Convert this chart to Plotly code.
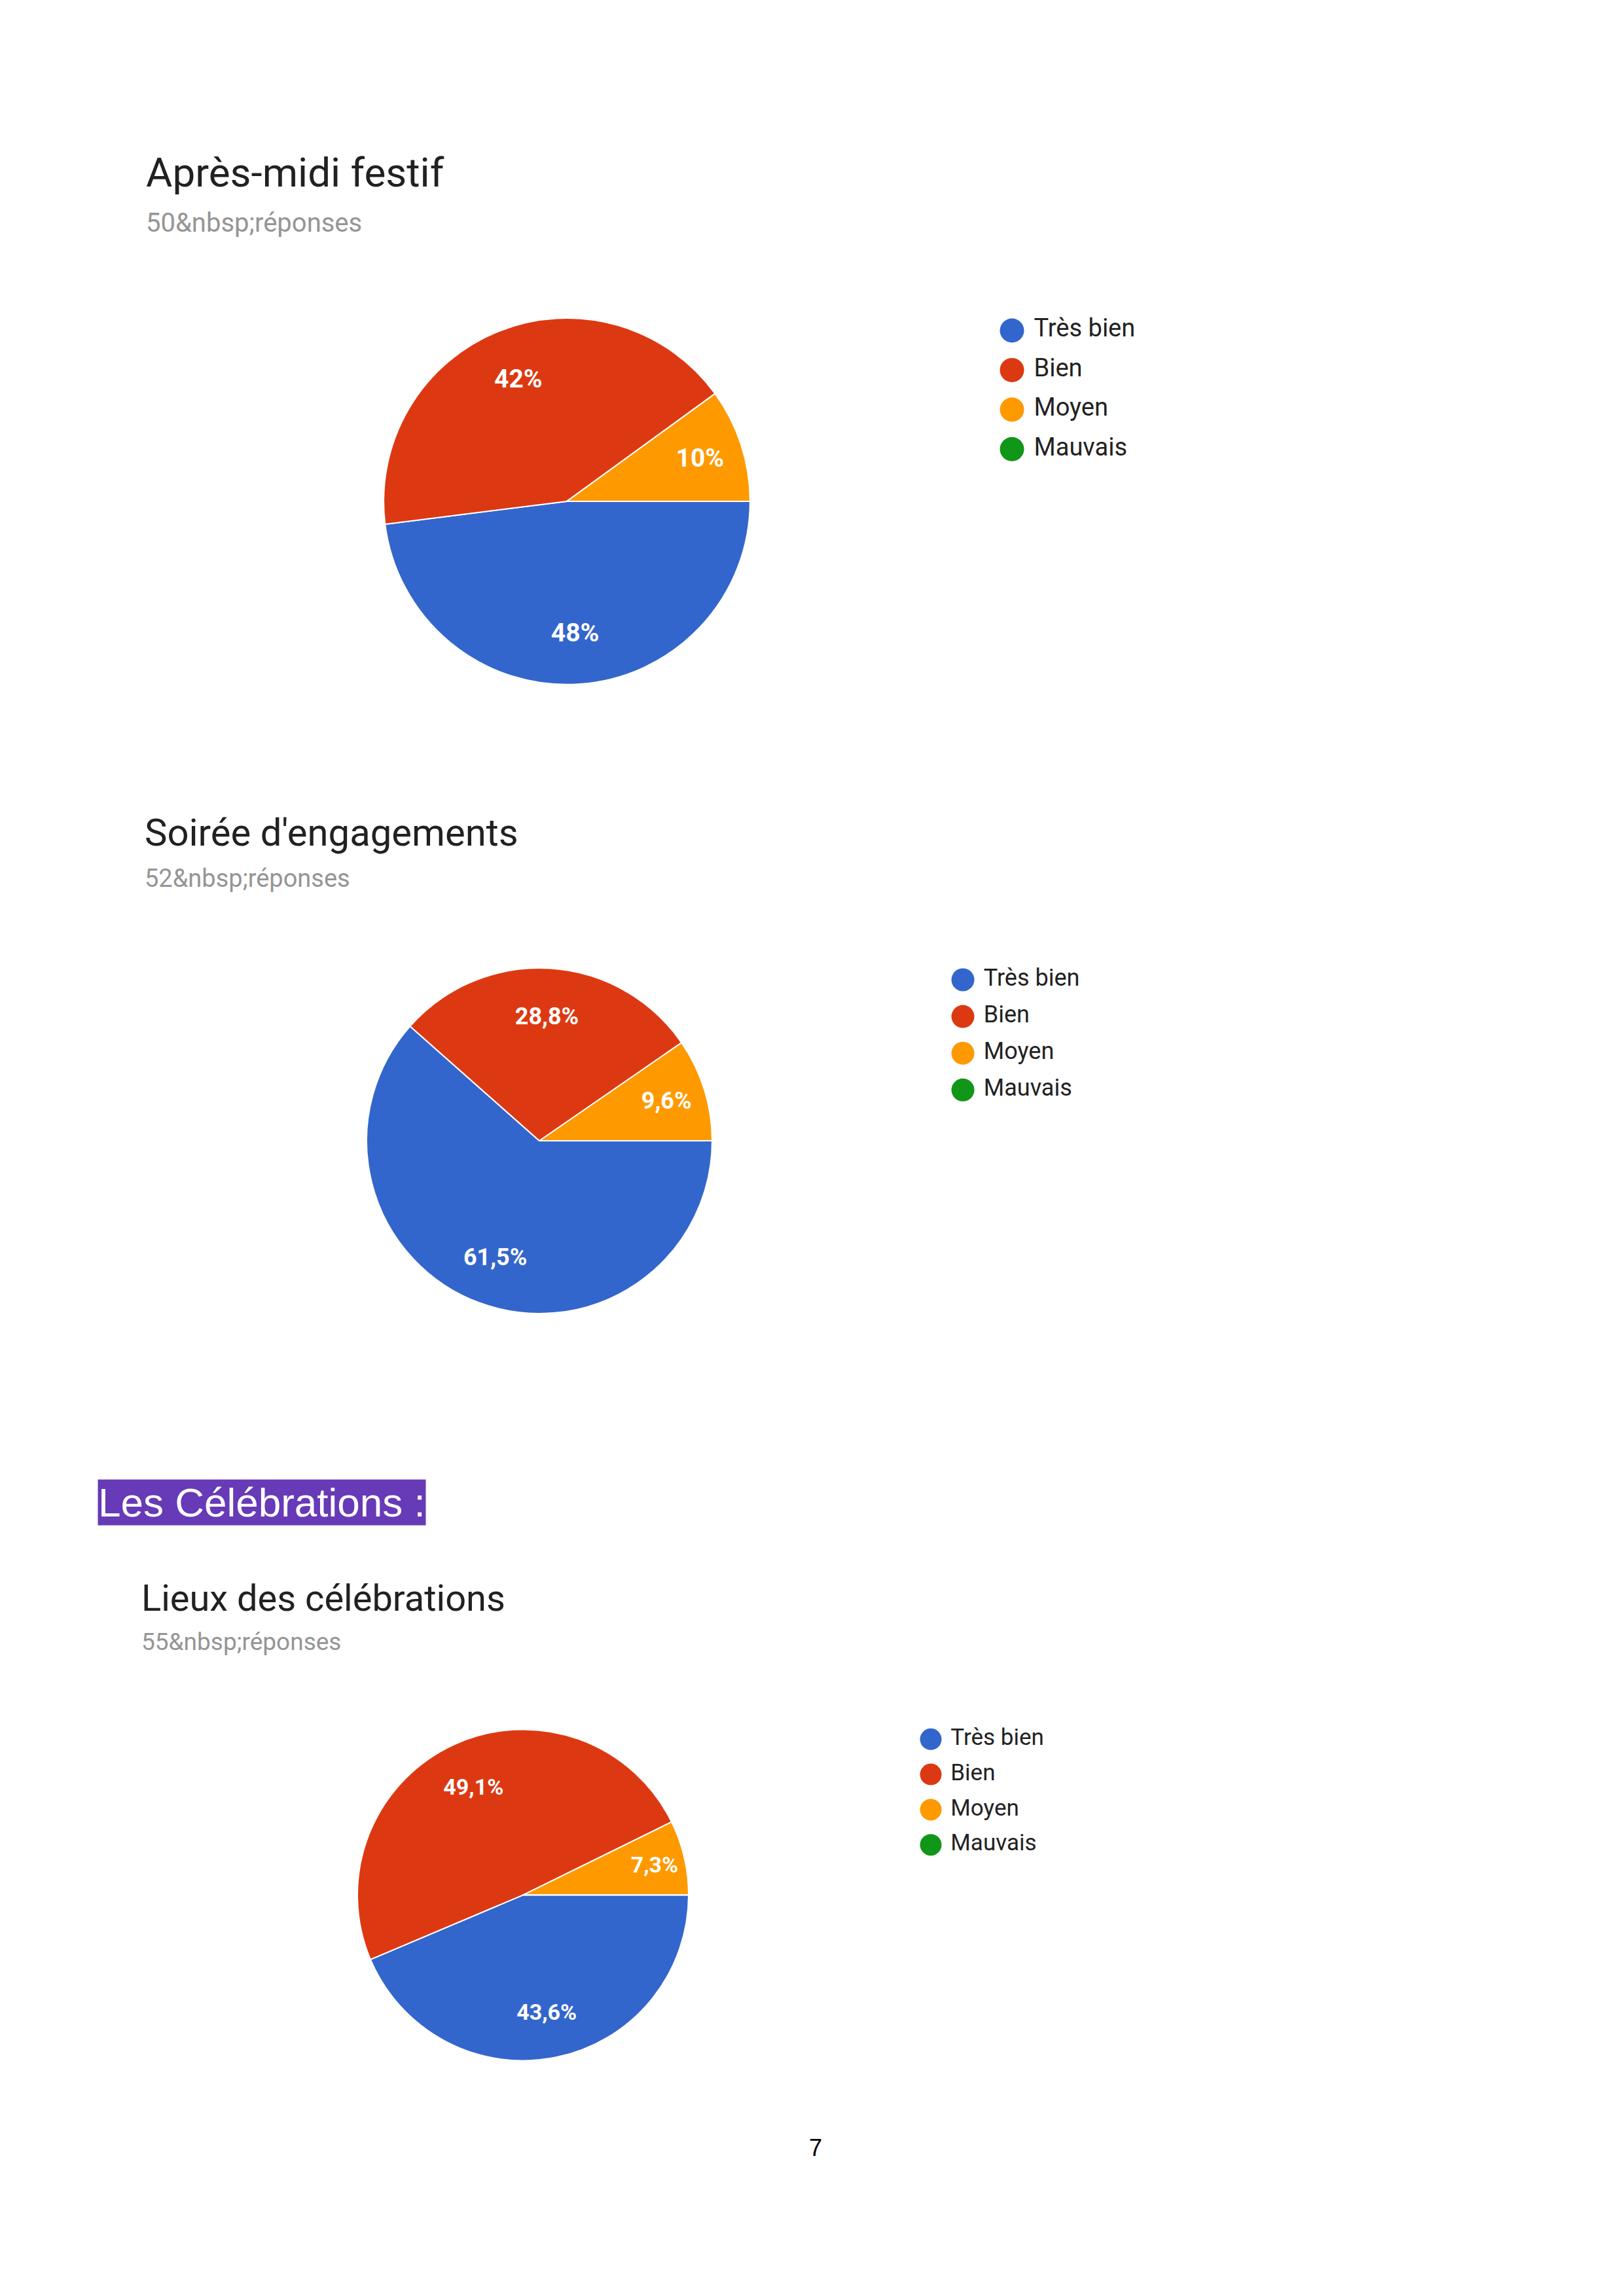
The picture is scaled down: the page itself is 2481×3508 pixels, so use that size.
import plotly.graph_objects as go

W, H = 2481, 3508

# data
categories = ["Très bien", "Bien", "Moyen", "Mauvais"]
colors = ["#3366cc", "#dc3912", "#ff9900", "#109618"]

titles = ["Après-midi festif", "Soirée d'engagements", "Lieux des célébrations"]
responses = [50, 52, 55]

festif_values = [24, 21, 5, 0]
engagements_values = [32, 15, 5, 0]
lieux_values = [24, 27, 4, 0]
all_values = [festif_values, engagements_values, lieux_values]

section_title = "Les Célébrations :"
page_number = "7"

# layout of each block, in page pixels
blocks = [
    dict(tx=225, ty=265, sy=342, cx=870, cy=769, r=281, lx=1550, ly0=507, ly1=689,
         tf=62, sf=40, lf=38, ms=37, pf=39),
    dict(tx=223, ty=1277, sy=1347, cx=828, cy=1750, r=265, lx=1475, ly0=1503, ly1=1672,
         tf=58, sf=38, lf=36, ms=35, pf=36),
    dict(tx=218, ty=2452, sy=2519, cx=803, cy=2907, r=254, lx=1426, ly0=2668, ly1=2830,
         tf=56, sf=37, lf=35, ms=33, pf=34),
]
XSHIFT = -4    # small corrections measured on the render
YFIX = 0.996


def px(x):
    return (x + XSHIFT) / W


def py(y):
    return 1 - y * YFIX / H


fig = go.Figure()
annotations = []
axes = {}

for i, (b, vals) in enumerate(zip(blocks, all_values)):
    dom = dict(
        x=[px(b["cx"] - b["r"]), px(b["cx"] + b["r"])],
        y=[py(b["cy"] + b["r"]), py(b["cy"] - b["r"])],
    )
    common = dict(
        labels=categories,
        values=vals,
        sort=False,
        direction="clockwise",
        rotation=90,
        domain=dom,
        showlegend=False,
    )
    # the pie itself
    fig.add_trace(
        go.Pie(
            textinfo="none",
            hoverinfo="label+percent",
            marker=dict(colors=colors, line=dict(color="white", width=2)),
            **common,
        )
    )
    # invisible ring on top, only to put the percentages further out
    fig.add_trace(
        go.Pie(
            hole=0.44,
            marker=dict(colors=["rgba(0,0,0,0)"] * len(categories), line=dict(width=0)),
            texttemplate="%{percent:.1~%}",
            textposition="inside",
            insidetextorientation="horizontal",
            textfont=dict(family="Roboto", size=b["pf"], color="white", weight="bold"),
            hoverinfo="skip",
            **common,
        )
    )

    # legend drawn as a scatter on a hidden category axis
    n = str(i + 1)
    step = (b["ly1"] - b["ly0"]) / (len(categories) - 1)
    fig.add_trace(
        go.Scatter(
            x=[0] * len(categories),
            y=categories,
            mode="markers+text",
            marker=dict(size=b["ms"], color=colors),
            text=["\u00a0" + c for c in categories],
            textposition="middle right",
            textfont=dict(family="Roboto", size=b["lf"], color="#222222"),
            xaxis="x" + n,
            yaxis="y" + n,
            showlegend=False,
            hoverinfo="skip",
            cliponaxis=False,
        )
    )
    axes["xaxis" + n] = dict(
        domain=[px(b["lx"]), px(b["lx"] + 400)], range=[0, 1], visible=False,
        anchor="y" + n, fixedrange=True,
    )
    axes["yaxis" + n] = dict(
        domain=[py(b["ly1"] + step / 2), py(b["ly0"] - step / 2)],
        type="category", categoryorder="array", categoryarray=categories,
        range=[len(categories) - 0.5, -0.5], visible=False,
        anchor="x" + n, fixedrange=True,
    )

    annotations.append(dict(
        text=titles[i], x=px(b["tx"]), y=py(b["ty"]), xref="paper", yref="paper",
        xanchor="left", yanchor="middle", showarrow=False,
        font=dict(family="Roboto", size=b["tf"], color="#212121"),
    ))
    annotations.append(dict(
        text=f"{responses[i]}&amp;nbsp;réponses", x=px(b["tx"]), y=py(b["sy"]),
        xref="paper", yref="paper", xanchor="left", yanchor="middle", showarrow=False,
        font=dict(family="Roboto", size=b["sf"], color="#959595"),
    ))

annotations.append(dict(
    text=section_title, x=px(153), y=py(2305), xref="paper", yref="paper",
    xanchor="left", yanchor="middle", showarrow=False, bgcolor="#673ab7", borderpad=0,
    font=dict(family="Liberation Sans", size=62, color="white"),
))
annotations.append(dict(
    text=page_number, x=px(1250), y=py(3295), xref="paper", yref="paper",
    xanchor="center", yanchor="middle", showarrow=False,
    font=dict(family="Liberation Sans", size=36, color="black"),
))

fig.update_layout(
    width=W,
    height=H,
    margin=dict(l=0, r=0, t=0, b=0),
    paper_bgcolor="white",
    plot_bgcolor="white",
    separators=", ",
    annotations=annotations,
    **axes,
)

fig.write_html(
    "out.html",
    config={"displayModeBar": False},
    post_script="document.body.style.margin='0px';document.body.style.overflow='hidden';",
)
